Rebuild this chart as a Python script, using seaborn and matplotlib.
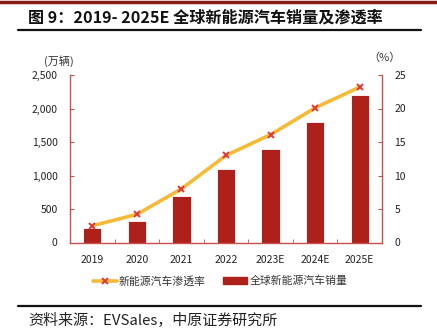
import matplotlib
matplotlib.use("Agg")
import matplotlib.pyplot as plt
from matplotlib.lines import Line2D
from matplotlib.patches import Patch
import seaborn as sns
import pandas as pd

years = ["2019", "2020", "2021", "2022", "2023E", "2024E", "2025E"]
sales = [220, 320, 700, 1100, 1400, 1800, 2200]          # 万辆
penetration = [2.5, 4.2, 8.0, 13.0, 16.1, 20.1, 23.2]    # %
left_ticks = [0, 500, 1000, 1500, 2000, 2500]
left_ticklabels = ["0", "500", "1,000", "1,500", "2,000", "2,500"]
right_ticks = [0, 5, 10, 15, 20, 25]

title = "图 9：2019- 2025E 全球新能源汽车销量及渗透率"
source = "资料来源：EVSales，中原证券研究所"
line_label = "新能源汽车渗透率"
bar_label = "全球新能源汽车销量"

sns.set_style("white")
plt.rcParams["font.family"] = ["Noto Sans CJK SC", "DejaVu Sans"]

BAR = "#AE201A"
LINE = "#F6BA37"
MARK = "#E2373A"
SPINE = "#C8514E"

W, H = 437, 335
fig = plt.figure(figsize=(W / 100, H / 100), dpi=100)
ax = fig.add_axes([70 / W, (H - 242.5) / H, 312 / W, 167.5 / H])

df = pd.DataFrame({"year": years, "sales": sales, "pen": penetration})
sns.barplot(data=df, x="year", y="sales", color=BAR, width=0.41,
            saturation=1, ax=ax, edgecolor="white", linewidth=0.6)
ax.set_ylim(0, 2500)
ax.set_yticks(left_ticks)
ax.set_yticklabels(left_ticklabels)
ax.set_xlabel("")
ax.set_ylabel("")

ax2 = ax.twinx()
sns.pointplot(data=df, x="year", y="pen", color=LINE, markers="x",
              ax=ax2, linewidth=2.6, markersize=5,
              markeredgecolor=MARK, markerfacecolor=MARK, markeredgewidth=1.4)
ax2.set_ylim(0, 25)
ax2.set_yticks(right_ticks)
ax2.set_ylabel("")
ax2.set_xlabel("")
ax.set_xlim(-0.5, len(years) - 0.5)

for a in (ax, ax2):
    for s in a.spines.values():
        s.set_visible(False)
ax.spines["left"].set_visible(True)
ax.spines["bottom"].set_visible(True)
ax2.spines["right"].set_visible(True)
for s in (ax.spines["left"], ax.spines["bottom"], ax2.spines["right"]):
    s.set_color(SPINE)
    s.set_linewidth(1.0)

ax.tick_params(axis="y", direction="in", length=3, color=SPINE, labelsize=7.5,
               labelcolor="#222222", pad=9, left=True)
ax2.tick_params(axis="y", direction="in", length=3, color=SPINE, labelsize=7.5,
                labelcolor="#222222", pad=9, right=True)
ax.set_xticks([i + 0.5 for i in range(len(years) - 1)] + [len(years) - 0.5], minor=True)
ax.tick_params(axis="x", which="minor", direction="in", length=3, color=SPINE, bottom=True)
ax.tick_params(axis="x", which="major", length=0, labelsize=7.5, labelcolor="#222222", pad=9)

# unit labels
fig.text(44 / W, 1 - 61 / H, "(万辆)", fontsize=8, color="#333333", va="center")
fig.text(368 / W, 1 - 58 / H, "（%）", fontsize=8, color="#333333", va="center")

# title and rules
fig.text(28 / W, 1 - 17 / H, title, fontsize=11.6, fontweight="bold", color="#111111", va="center")
fig.add_artist(Line2D([0, 1], [1 - 1.5 / H, 1 - 1.5 / H], color="#8B1A1A", lw=2.5))
fig.add_artist(Line2D([18 / W, 421 / W], [1 - 30 / H, 1 - 30 / H], color="#111111", lw=1.6))
fig.add_artist(Line2D([18 / W, 421 / W], [1 - 306 / H, 1 - 306 / H], color="#111111", lw=1.6))
fig.text(28 / W, 1 - 321 / H, source, fontsize=10.8, color="#222222", va="center")

# legend
handles = [
    Line2D([0], [0], color=LINE, lw=2.6, marker="x", markersize=5,
           markeredgecolor=MARK, markeredgewidth=1.4),
    Patch(facecolor=BAR, edgecolor=BAR),
]
fig.legend(handles, [line_label, bar_label], loc="center", ncol=2,
           bbox_to_anchor=(220 / W, 1 - 281 / H), frameon=False, fontsize=7.8,
           handlelength=2.2, handleheight=0.5, columnspacing=1.6, handletextpad=0.2,
           labelcolor="#333333")

fig.savefig("out.png", dpi=100)
